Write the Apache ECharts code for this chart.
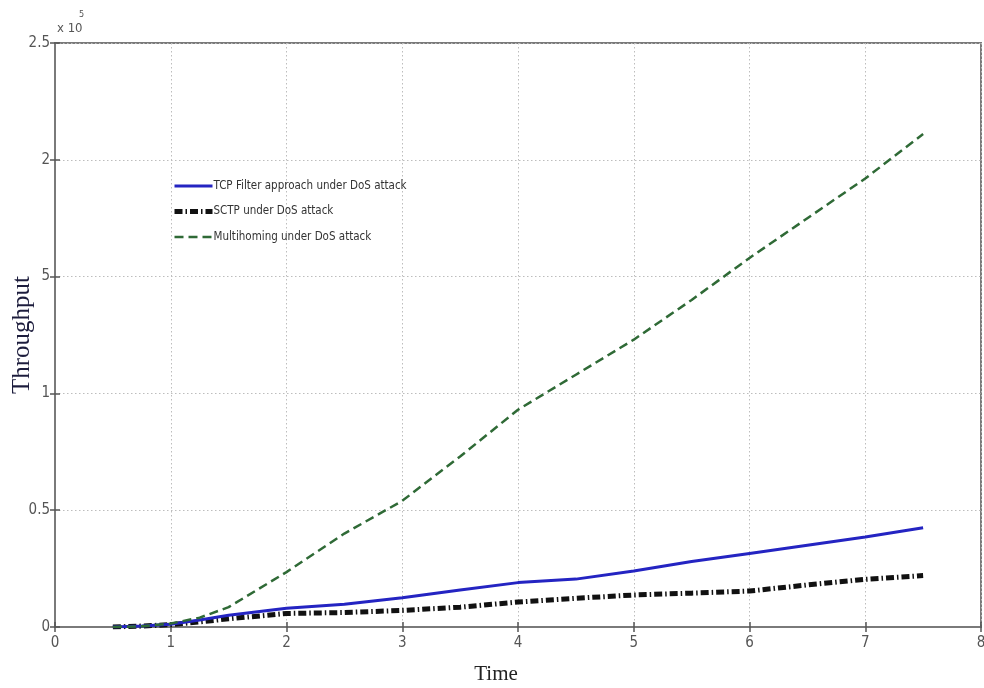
<!DOCTYPE html>
<html>
<head>
<meta charset="utf-8">
<script src="https://cdn.jsdelivr.net/npm/echarts@6/dist/echarts.min.js"></script>
<style>
html,body{margin:0;padding:0;background:#fff;}
#chart{width:984px;height:688px;}
</style>
</head>
<body>
<div id="chart"></div>
<script>
// Time values (x axis)
var times = [0.5, 0.75, 1, 1.25, 1.5, 2, 2.5, 3, 3.5, 4, 4.5, 5, 5.5, 6, 6.5, 7, 7.5];
// Throughput values in units of 10^5
var tcpFilter = [0, 0.004, 0.012, 0.03, 0.05, 0.08, 0.097, 0.125, 0.158, 0.19, 0.205, 0.24, 0.28, 0.315, 0.35, 0.385, 0.425];
var sctp = [0, 0.004, 0.01, 0.022, 0.035, 0.058, 0.062, 0.071, 0.085, 0.107, 0.123, 0.137, 0.145, 0.154, 0.18, 0.204, 0.22];
var multihoming = [0, 0.003, 0.015, 0.04, 0.085, 0.235, 0.40, 0.54, 0.73, 0.93, 1.08, 1.23, 1.40, 1.58, 1.75, 1.92, 2.11];
var seriesNames = ['TCP Filter approach under DoS attack', 'SCTP under DoS attack', 'Multihoming under DoS attack'];
var yTickLabels = ['0', '0.5', '1', '5', '2', '2.5'];
var xTickLabels = ['0', '1', '2', '3', '4', '5', '6', '7', '8'];

function pairs(ys) { return times.map(function (t, i) { return [t, ys[i]]; }); }

var narrow = '"Liberation Sans Narrow", "DejaVu Sans Condensed", "Arial Narrow", sans-serif';
var serif = '"Liberation Serif", "Times New Roman", serif';
var chart = echarts.init(document.getElementById('chart'));
var gridLine = { show: true, lineStyle: { color: '#bdbdbd', type: [1.5, 2.5], width: 1 } };
var tick = { show: true, inside: true, length: 5, lineStyle: { color: '#555', width: 1.5 } };

chart.setOption({
  backgroundColor: '#fff',
  animation: false,
  grid: { left: 55, right: 3, top: 43, bottom: 61, containLabel: false, outerBoundsMode: 'none',
    show: true, borderColor: '#7a7a7a', borderWidth: 2, backgroundColor: '#fff' },
  legend: {
    orient: 'vertical', left: 172, top: 180, padding: 0, itemWidth: 38, itemHeight: 14, itemGap: 13.5,
    itemStyle: { opacity: 0 },
    textStyle: { fontFamily: narrow, fontSize: 11.5, color: '#333', padding: [0, 0, 0, -4] },
    data: [
      { name: seriesNames[0], lineStyle: { width: 3 } },
      { name: seriesNames[1], lineStyle: { width: 5 } },
      { name: seriesNames[2], lineStyle: { width: 2.5 } }
    ]
  },
  xAxis: [{
    type: 'value', min: 0, max: 8, interval: 1, position: 'bottom',
    name: 'Time', nameLocation: 'middle', nameGap: 37,
    nameTextStyle: { fontFamily: serif, fontSize: 21, color: '#222', padding: [0, 44, 0, 0] },
    axisLine: { show: true, lineStyle: { color: '#7a7a7a', width: 2 } },
    axisTick: tick,
    axisLabel: { margin: 9, fontFamily: narrow, fontSize: 15, color: '#555',
      formatter: function (v) { return xTickLabels[Math.round(v)]; } },
    splitLine: gridLine
  }, {
    type: 'value', min: 0, max: 8, interval: 1, position: 'top',
    axisLine: { show: true, lineStyle: { color: '#7a7a7a', width: 2 } },
    axisTick: tick, axisLabel: { show: false }, splitLine: { show: false }
  }],
  yAxis: [{
    type: 'value', min: 0, max: 2.5, interval: 0.5, position: 'left',
    axisLine: { show: true, lineStyle: { color: '#7a7a7a', width: 2 } },
    axisTick: tick,
    axisLabel: { margin: 5, fontFamily: narrow, fontSize: 15, color: '#555',
      formatter: function (v) { return yTickLabels[Math.round(v / 0.5)]; } },
    splitLine: gridLine
  }, {
    type: 'value', min: 0, max: 2.5, interval: 0.5, position: 'right',
    axisLine: { show: true, lineStyle: { color: '#7a7a7a', width: 2 } },
    axisTick: tick, axisLabel: { show: false }, splitLine: { show: false }
  }],
  graphic: [{
    type: 'text', x: 22, y: 335, rotation: Math.PI / 2,
    style: { text: 'Throughput', fontFamily: serif, fontSize: 25, fill: '#1c1c3c', align: 'center', verticalAlign: 'middle' }
  }, {
    type: 'text', left: 57, top: 22,
    style: { text: 'x 10', fontFamily: narrow, fontSize: 13, fill: '#555' }
  }, {
    type: 'text', left: 79, top: 10,
    style: { text: '5', fontFamily: narrow, fontSize: 9, fill: '#555' }
  }],
  series: [{
    name: seriesNames[0], type: 'line', data: pairs(tcpFilter), symbol: 'none', smooth: false,
    lineStyle: { color: '#2424c2', width: 3 }, itemStyle: { color: '#2424c2' }, z: 4
  }, {
    name: seriesNames[1], type: 'line', data: pairs(sctp), symbol: 'none',
    lineStyle: { color: '#111', width: 5, type: [8, 3, 1.5, 3] }, itemStyle: { color: '#111' }, z: 3
  }, {
    name: seriesNames[2], type: 'line', data: pairs(multihoming), symbol: 'none',
    lineStyle: { color: '#2f6a36', width: 2.5, type: [9, 5] }, itemStyle: { color: '#2f6a36' }, z: 5
  }]
});
</script>
</body>
</html>
